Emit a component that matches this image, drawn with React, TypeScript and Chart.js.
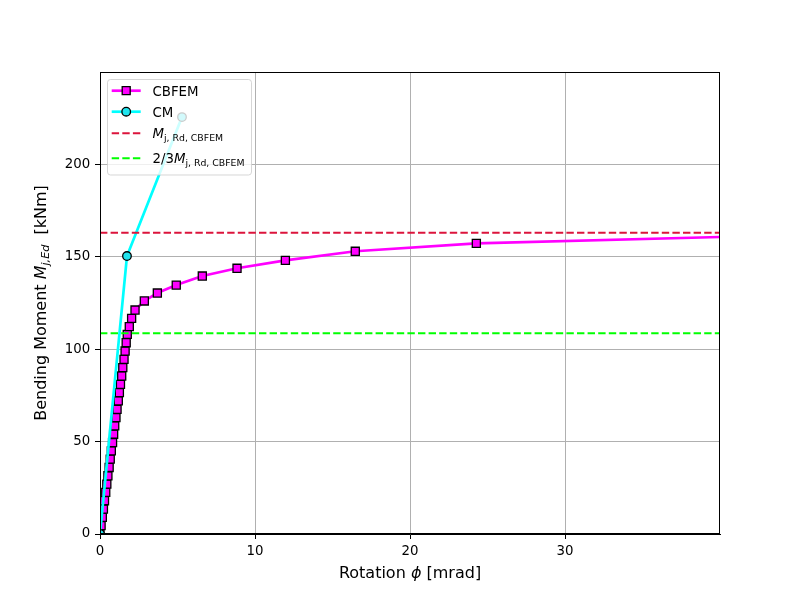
import React, { useEffect, useRef } from 'react';
import { Chart, registerables } from 'chart.js';

Chart.register(...registerables);

// CBFEM curve (rotation in mrad, moment in kNm)
const cbfemRotation = [
  0, 0.07, 0.15, 0.22, 0.29, 0.37, 0.44, 0.51, 0.59, 0.66, 0.73, 0.81, 0.88,
  0.95, 1.03, 1.1, 1.18, 1.25, 1.32, 1.4, 1.47, 1.55, 1.62, 1.69, 1.76,
  1.89, 2.04, 2.26, 2.86, 3.7, 4.92, 6.6, 8.84, 11.96, 16.47, 24.28, 44.6,
];
const cbfemMoment = [
  0, 4.5, 9, 13.5, 18, 22.5, 27, 31.5, 36, 40.5, 45, 49.5, 54,
  58.5, 63, 67.5, 72, 76.5, 81, 85.5, 90, 94.5, 99, 103.5, 108,
  112.2, 116.7, 121.2, 126.1, 130.4, 134.7, 139.6, 143.8, 148.1, 153.0, 157.3, 161.7,
];

// CM curve
const cmRotation = [0, 1.74, 5.29];
const cmMoment = [0, 150.4, 225.6];

// design resistance
const mjRdCbfem = 163;

const xRange = [0, 40];
const yRange = [0, 250];
const xTicks = [0, 10, 20, 30];
const yTicks = [0, 50, 100, 150, 200];

const FONT = "'DejaVu Sans', sans-serif";

type Part = { text: string; italic?: boolean; sub?: boolean };

const partFont = (p: Part, size: number) =>
  `${p.italic ? 'italic ' : ''}${p.sub ? size * 0.7 : size}px ${FONT}`;

function measureParts(ctx: CanvasRenderingContext2D, parts: Part[], size: number) {
  let w = 0;
  for (const p of parts) {
    ctx.font = partFont(p, size);
    w += ctx.measureText(p.text).width;
  }
  return w;
}

function drawParts(ctx: CanvasRenderingContext2D, parts: Part[], x: number, y: number, size: number) {
  ctx.textAlign = 'left';
  ctx.textBaseline = 'alphabetic';
  let cx = x;
  for (const p of parts) {
    ctx.font = partFont(p, size);
    ctx.fillText(p.text, cx, p.sub ? y + size * 0.22 : y);
    cx += ctx.measureText(p.text).width;
  }
}

const yTitle: Part[] = [
  { text: 'Bending Moment ' },
  { text: 'M', italic: true },
  { text: 'j,Ed', italic: true, sub: true },
  { text: '  [kNm]' },
];
const xTitle: Part[] = [{ text: 'Rotation ' }, { text: 'ϕ', italic: true }, { text: ' [mrad]' }];

const legendRows: { parts: Part[]; color: string; dash?: number[]; marker?: 'rect' | 'circle'; fill?: string }[] = [
  { parts: [{ text: 'CBFEM' }], color: '#ff00ff', marker: 'rect', fill: '#ff00ff' },
  { parts: [{ text: 'CM' }], color: '#00ffff', marker: 'circle', fill: '#20e4ee' },
  {
    parts: [{ text: 'M', italic: true }, { text: 'j, Rd, CBFEM', sub: true }],
    color: '#dc143c',
    dash: [7.4, 3.2],
  },
  {
    parts: [{ text: '2/3' }, { text: 'M', italic: true }, { text: 'j, Rd, CBFEM', sub: true }],
    color: '#00ff00',
    dash: [7.4, 3.2],
  },
];
const legendRowY = [90.7, 111.7, 133.3, 158.3];

const overlayPlugin = {
  id: 'overlay',
  afterDatasetsDraw(chart: Chart) {
    const { ctx, chartArea: a } = chart;
    ctx.save();
    // frame
    ctx.strokeStyle = '#000';
    ctx.lineWidth = 1;
    ctx.strokeRect(a.left + 0.5, a.top + 0.5, a.right - a.left - 1, a.bottom - a.top - 1);

    // legend
    ctx.beginPath();
    ctx.roundRect(107.5, 79.5, 144, 95.5, 3);
    ctx.fillStyle = 'rgba(255,255,255,0.8)';
    ctx.fill();
    ctx.strokeStyle = 'rgba(204,204,204,0.8)';
    ctx.lineWidth = 1;
    ctx.stroke();

    legendRows.forEach((row, i) => {
      const y = legendRowY[i];
      ctx.beginPath();
      ctx.setLineDash(row.dash || []);
      ctx.strokeStyle = row.color;
      ctx.lineWidth = row.dash ? 2 : 2.7;
      ctx.moveTo(111.7, y);
      ctx.lineTo(140.7, y);
      ctx.stroke();
      ctx.setLineDash([]);
      if (row.marker) {
        ctx.beginPath();
        if (row.marker === 'rect') ctx.rect(126.2 - 4, y - 4, 8, 8);
        else ctx.arc(126.2, y, 4.3, 0, Math.PI * 2);
        ctx.fillStyle = row.fill || row.color;
        ctx.fill();
        ctx.strokeStyle = '#000';
        ctx.lineWidth = 1.3;
        ctx.stroke();
      }
      ctx.fillStyle = '#000';
      drawParts(ctx, row.parts, 152.5, y + 5, 13.33);
    });
    ctx.restore();
  },
  afterDraw(chart: Chart) {
    const { ctx, chartArea: a } = chart;
    ctx.save();
    ctx.fillStyle = '#000';
    const xw = measureParts(ctx, xTitle, 16);
    drawParts(ctx, xTitle, (a.left + a.right) / 2 - xw / 2, 578, 16);

    ctx.translate(45.5, (a.top + a.bottom) / 2);
    ctx.rotate(-Math.PI / 2);
    const yw = measureParts(ctx, yTitle, 16);
    drawParts(ctx, yTitle, -yw / 2, 0, 16);
    ctx.restore();
  },
};

const App: React.FC = () => {
  const canvasRef = useRef<HTMLCanvasElement>(null);

  useEffect(() => {
    if (!canvasRef.current) return;
    Chart.defaults.font.family = FONT;
    Chart.defaults.font.size = 13.33;
    Chart.defaults.color = '#000';

    const gridOpts = { color: '#b0b0b0', lineWidth: 1, tickLength: 5, tickColor: '#000', tickWidth: 1 };

    const chart = new Chart(canvasRef.current, {
      type: 'line',
      data: {
        datasets: [
          {
            label: 'CBFEM',
            data: cbfemRotation.map((x, i) => ({ x, y: cbfemMoment[i] })),
            borderColor: '#ff00ff',
            borderWidth: 2.7,
            pointStyle: 'rect',
            pointRadius: 5.7,
            pointBackgroundColor: '#ff00ff',
            pointBorderColor: '#000',
            pointBorderWidth: 1.3,
            order: 2,
          },
          {
            label: 'CM',
            data: cmRotation.map((x, i) => ({ x, y: cmMoment[i] })),
            borderColor: '#00ffff',
            borderWidth: 2.7,
            pointStyle: 'circle',
            pointRadius: 4.3,
            pointBackgroundColor: '#20e4ee',
            pointBorderColor: '#000',
            pointBorderWidth: 1.3,
            order: 1,
          },
          {
            label: 'Mj,Rd,CBFEM',
            data: xRange.map((x) => ({ x, y: mjRdCbfem })),
            borderColor: '#dc143c',
            borderWidth: 2,
            borderDash: [7.4, 3.2],
            pointRadius: 0,
            order: 0,
          },
          {
            label: '2/3 Mj,Rd,CBFEM',
            data: xRange.map((x) => ({ x, y: (2 / 3) * mjRdCbfem })),
            borderColor: '#00ff00',
            borderWidth: 2,
            borderDash: [7.4, 3.2],
            pointRadius: 0,
            order: 0,
          },
        ],
      },
      options: {
        responsive: false,
        animation: false,
        events: [],
        layout: { padding: { top: 72, right: 80, left: 0, bottom: 0 } },
        plugins: { legend: { display: false }, tooltip: { enabled: false } },
        elements: { line: { tension: 0, fill: false } },
        scales: {
          x: {
            type: 'linear',
            min: xRange[0],
            max: xRange[1],
            afterBuildTicks: (s: any) => {
              s.ticks = xTicks.map((value) => ({ value }));
            },
            afterFit: (s: any) => {
              s.height = 66;
            },
            grid: gridOpts,
            border: { display: true, color: '#000', width: 1 },
            ticks: { color: '#000', padding: 4.7, maxRotation: 0, autoSkip: false },
          },
          y: {
            type: 'linear',
            min: yRange[0],
            max: yRange[1],
            afterBuildTicks: (s: any) => {
              s.ticks = yTicks.map((value) => ({ value }));
            },
            afterFit: (s: any) => {
              s.width = 100;
            },
            grid: gridOpts,
            border: { display: true, color: '#000', width: 1 },
            ticks: { color: '#000', padding: 4.7, autoSkip: false },
          },
        },
      },
      plugins: [overlayPlugin],
    });

    return () => chart.destroy();
  }, []);

  return (
    <div style={{ position: 'fixed', left: 0, top: 0, width: 800, height: 600, background: '#fff' }}>
      <canvas ref={canvasRef} width={800} height={600} style={{ display: 'block' }} />
    </div>
  );
};

export default App;
